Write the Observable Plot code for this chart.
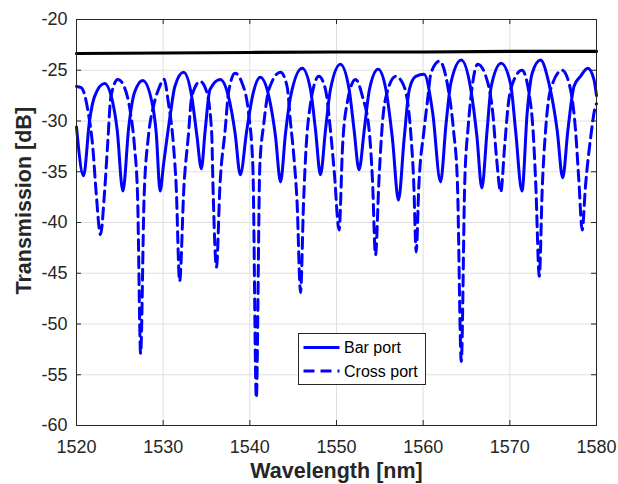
<!DOCTYPE html>
<html>
<head>
<meta charset="utf-8">
<script src="https://cdn.jsdelivr.net/npm/d3@7"></script>
<script src="https://cdn.jsdelivr.net/npm/@observablehq/plot@0.6"></script>
<style>
  html, body { margin: 0; padding: 0; background: #fff; }
  #chart { position: relative; width: 618px; height: 484px; }
</style>
</head>
<body>
<div id="chart"></div>
<script>
// ---- data ----
const wavelengthTicks = [1520, 1530, 1540, 1550, 1560, 1570, 1580];
const transmissionTicks = [-60, -55, -50, -45, -40, -35, -30, -25, -20];

const seriesNames = ["Bar port", "Cross port"];

const barWavelength = [1520.0,1520.81,1521.5,1522.08,1523.23,1524.19,1524.69,1525.35,1526.04,1526.69,1527.65,1528.8,1529.2,1529.65,1530.04,1530.8,1531.35,1532.35,1533.3,1533.9,1534.4,1534.85,1535.4,1536.58,1537.54,1538.3,1538.9,1539.65,1540.4,1541.2,1542.2,1542.96,1543.54,1544.12,1544.7,1546.04,1547.0,1547.58,1548.15,1548.73,1549.3,1550.45,1551.46,1552.03,1552.6,1553.2,1553.8,1554.8,1555.7,1556.46,1557.15,1557.8,1558.4,1559.15,1560.1,1561.1,1562.0,1562.65,1563.2,1564.4,1565.5,1566.2,1566.77,1567.38,1567.85,1569.0,1570.1,1570.66,1571.4,1572.0,1572.58,1573.54,1574.5,1575.46,1576.1,1576.7,1577.4,1578.15,1579.0,1579.7,1580.0];
const barTransmission = [-30.6,-35.4,-30.0,-27.6,-26.3,-28.2,-30.85,-36.9,-30.5,-27.2,-26.0,-28.55,-31.2,-36.9,-34.3,-29.5,-26.6,-25.2,-27.6,-31.5,-34.7,-30.9,-26.9,-25.9,-27.6,-31.2,-35.3,-30.9,-27.2,-25.7,-27.6,-31.5,-36.0,-31.2,-27.6,-24.8,-26.9,-30.9,-35.3,-30.9,-26.9,-24.4,-26.9,-30.9,-34.8,-30.9,-26.9,-24.9,-26.9,-31.8,-37.8,-31.8,-26.9,-25.6,-25.4,-29.2,-36.0,-30.2,-26.25,-24.0,-26.9,-31.5,-36.6,-30.9,-26.6,-24.3,-26.4,-30.9,-36.9,-29.2,-25.3,-24.0,-26.25,-30.9,-35.6,-30.9,-26.6,-25.6,-24.8,-25.9,-27.5];

const crossWavelength = [1520.0,1520.54,1521.3,1521.9,1522.27,1522.77,1523.23,1523.6,1523.97,1524.77,1525.54,1526.23,1526.69,1527.05,1527.4,1527.8,1528.3,1528.9,1529.5,1530.1,1530.6,1531.2,1531.5,1531.9,1532.4,1532.9,1533.3,1534.27,1535.04,1535.6,1535.75,1536.15,1536.55,1537.15,1537.54,1538.3,1539.1,1539.85,1540.35,1540.75,1541.15,1541.62,1542.2,1543.54,1544.3,1544.7,1545.08,1545.45,1545.85,1546.2,1546.5,1546.85,1547.96,1548.73,1549.3,1549.75,1550.3,1550.7,1551.26,1552.2,1553.0,1553.8,1554.15,1554.5,1554.9,1555.3,1555.9,1556.84,1557.8,1558.57,1558.9,1559.2,1559.5,1560.1,1560.5,1560.9,1561.88,1562.84,1563.5,1563.95,1564.4,1564.8,1565.2,1565.6,1566.3,1567.46,1568.03,1568.45,1568.95,1569.4,1569.8,1570.5,1571.4,1572.2,1572.7,1573.0,1573.4,1573.75,1574.1,1574.7,1576.04,1577.0,1577.58,1577.96,1578.35,1578.73,1579.3,1579.9,1580.0];
const crossTransmission = [-26.6,-26.7,-28.9,-32.8,-37.1,-41.2,-37.1,-32.2,-27.6,-25.9,-26.7,-29.2,-32.5,-37.5,-52.9,-37.5,-31.5,-28.5,-26.8,-25.9,-28.2,-32.5,-36.4,-45.8,-36.4,-31.5,-27.6,-26.1,-27.2,-31.2,-36.4,-44.4,-36.4,-30.9,-27.2,-25.3,-26.25,-29.2,-34.5,-57.3,-34.5,-30.2,-26.9,-25.2,-26.6,-30.2,-33.5,-38.0,-46.9,-38.0,-32.5,-29.2,-25.6,-26.9,-30.9,-35.1,-40.75,-32.5,-28.1,-25.9,-27.6,-31.2,-35.8,-43.2,-35.8,-30.2,-27.0,-25.6,-26.6,-31.2,-35.8,-42.9,-36.4,-30.9,-28.0,-25.3,-24.1,-26.6,-30.9,-36.0,-53.7,-36.0,-30.5,-27.0,-24.4,-26.25,-29.2,-33.5,-37.0,-32.5,-28.5,-25.9,-25.0,-27.2,-31.2,-36.4,-45.3,-36.4,-31.2,-26.9,-25.0,-26.9,-30.9,-35.8,-40.75,-36.4,-31.8,-28.5,-28.3];

const inputWavelength = [1520, 1530, 1540, 1550, 1560, 1570, 1580];
const inputTransmission = [-23.35, -23.3, -23.25, -23.2, -23.2, -23.15, -23.15];

// ---- tables built from the arrays ----
const bar = barWavelength.map((w, i) => ({w, t: barTransmission[i]}));
const cross = crossWavelength.map((w, i) => ({w, t: crossTransmission[i]}));
const input = inputWavelength.map((w, i) => ({w, t: inputTransmission[i]}));

const axisColor = "#262626";
const blue = "#0000ff";
const W = 618, H = 484, mL = 76, mR = 22, mT = 19, mB = 59;
const innerW = W - mL - mR, innerH = H - mT - mB;
const tickLen = 5;

const chart = Plot.plot({
  width: W, height: H,
  marginLeft: mL, marginRight: mR, marginTop: mT, marginBottom: mB,
  x: {domain: [1520, 1580]},
  y: {domain: [-60, -20]},
  style: {fontFamily: "'Liberation Sans', Arial, sans-serif", fontSize: "18px", color: axisColor, background: "#fff"},
  marks: [
    Plot.gridX(wavelengthTicks, {stroke: "#dfdfdf", strokeOpacity: 1, strokeWidth: 1}),
    Plot.gridY(transmissionTicks, {stroke: "#dfdfdf", strokeOpacity: 1, strokeWidth: 1}),
    Plot.line(input, {x: "w", y: "t", stroke: "#000", strokeWidth: 3.2}),
    Plot.line(bar, {x: "w", y: "t", stroke: blue, strokeWidth: 3, curve: "monotone-x"}),
    Plot.line(cross, {x: "w", y: "t", stroke: blue, strokeWidth: 3, strokeDasharray: "11,6", curve: "monotone-x"}),
    Plot.frame({stroke: axisColor, strokeWidth: 1}),
    Plot.tickX(wavelengthTicks, {x: d => d, stroke: axisColor, insetTop: innerH - tickLen}),
    Plot.tickX(wavelengthTicks, {x: d => d, stroke: axisColor, insetBottom: innerH - tickLen}),
    Plot.tickY(transmissionTicks, {y: d => d, stroke: axisColor, insetRight: innerW - tickLen}),
    Plot.tickY(transmissionTicks, {y: d => d, stroke: axisColor, insetLeft: innerW - tickLen}),
    Plot.axisX({ticks: wavelengthTicks, tickSize: 0, tickPadding: 15, tickFormat: d => String(d), label: null, fontSize: 18}),
    Plot.axisY({ticks: transmissionTicks, tickSize: 0, tickPadding: 9, tickFormat: d => String(d), label: null, fontSize: 18}),
    Plot.text(["Wavelength [nm]"], {frameAnchor: "bottom", dy: 46, fontSize: 21.5, fontWeight: "bold", fill: axisColor, lineAnchor: "middle"}),
    Plot.text(["Transmission [dB]"], {frameAnchor: "left", dx: -52, dy: 72, rotate: -90, fontSize: 21.5, fontWeight: "bold", fill: axisColor, lineAnchor: "middle"})
  ]
});

const holder = document.getElementById("chart");
holder.appendChild(chart);

// legend overlay (inside the plot area)
const svg = d3.select(chart);
const lg = svg.append("g").attr("transform", "translate(298.5,333.5)")
  .attr("font-family", "'Liberation Sans', Arial, sans-serif").attr("font-size", 16)
  .attr("text-anchor", "start");
lg.append("rect").attr("width", 127).attr("height", 51).attr("fill", "#fff").attr("stroke", axisColor).attr("stroke-width", 1);
const entries = [{name: seriesNames[0], dash: null}, {name: seriesNames[1], dash: "11,6"}];
entries.forEach((e, i) => {
  const y = 14 + i * 23.5;
  const l = lg.append("line").attr("x1", 5).attr("x2", 41).attr("y1", y).attr("y2", y)
    .attr("stroke", blue).attr("stroke-width", 3);
  if (e.dash) l.attr("stroke-dasharray", e.dash);
  lg.append("text").attr("x", 45.5).attr("y", y).attr("dy", "0.35em")
    .attr("text-anchor", "start").attr("fill", "#000").text(e.name);
});
</script>
</body>
</html>
